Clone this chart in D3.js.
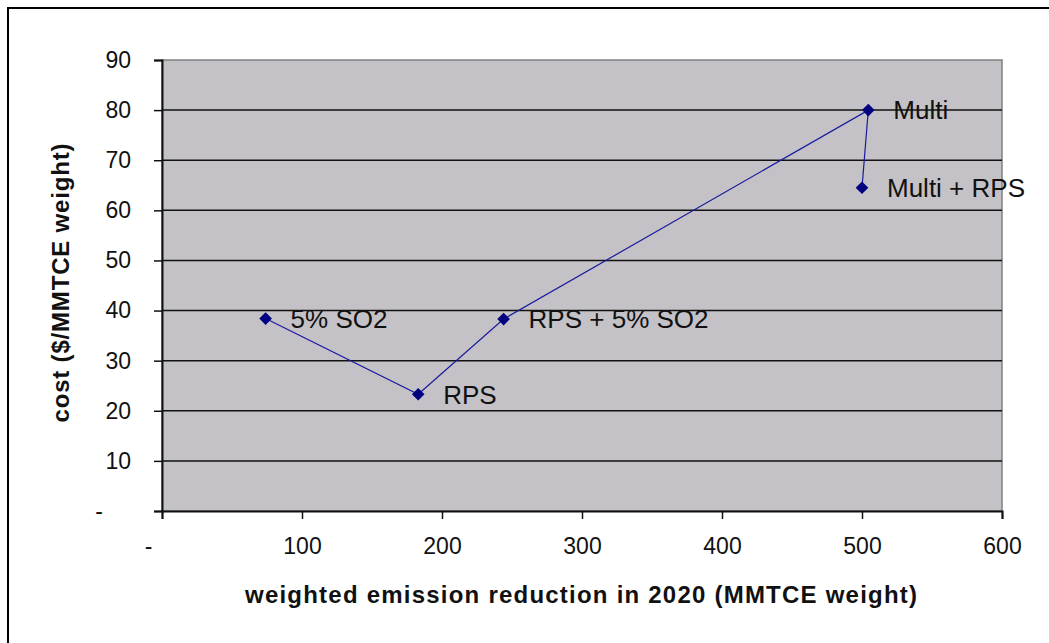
<!DOCTYPE html>
<html lang="en">
<head>
    <meta charset="UTF-8">
    <title>Cost vs weighted emission reduction</title>
    <style>
        body { margin: 0; background: #fff; }
        text { font-family: "Liberation Sans", Arial, sans-serif; }
    </style>
</head>
<body>
    <div id="my_dataviz"></div>
    <script src="https://d3js.org/d3.v7.min.js"></script>
    <script>

        // data
        var scenarios = ["5% SO2", "RPS", "RPS + 5% SO2", "Multi", "Multi + RPS"]
        var reduction = [74, 183, 244, 504.5, 500]
        var cost = [38.4, 23.3, 38.3, 80, 64.5]
        var xTicks = [0, 100, 200, 300, 400, 500, 600]
        var yTicks = [0, 10, 20, 30, 40, 50, 60, 70, 80, 90]

        var W = 1049, H = 643
        var margin = { top: 60, right: 47, bottom: 132, left: 162 },
            width = W - margin.left - margin.right,
            height = H - margin.top - margin.bottom;

        var svgRoot = d3.select("#my_dataviz")
            .append("svg")
            .attr("width", W)
            .attr("height", H)

        // outer chart frame (cut off at right/bottom)
        svgRoot.append("rect")
            .attr("x", 8).attr("y", 8)
            .attr("width", W + 20).attr("height", H + 20)
            .attr("fill", "#fff")
            .attr("stroke", "#000")
            .attr("stroke-width", 2)

        var svg = svgRoot.append("g")
            .attr("transform", "translate(" + margin.left + "," + margin.top + ")");

        var x = d3.scaleLinear().domain([0, 600]).range([0, width])
        var y = d3.scaleLinear().domain([0, 90]).range([height, 0])

        // plot area
        svg.append("rect")
            .attr("width", width).attr("height", height)
            .attr("fill", "#c4c2c6")
            .attr("stroke", "#808080")
            .attr("stroke-width", 1.5)

        // gridlines
        svg.selectAll(".grid")
            .data(yTicks.filter(function (d) { return d > 0 && d < 90 }))
            .enter()
            .append("line")
            .attr("x1", 0).attr("x2", width)
            .attr("y1", function (d) { return y(d) }).attr("y2", function (d) { return y(d) })
            .attr("stroke", "#111")
            .attr("stroke-width", 1.5)

        // axes
        var fmt = function (d) { return d === 0 ? "-" : d }
        var yAxis = svg.append("g")
            .call(d3.axisLeft(y).tickValues(yTicks).tickFormat(fmt).tickSize(8).tickPadding(23))
        var xAxis = svg.append("g")
            .attr("transform", "translate(0," + height + ")")
            .call(d3.axisBottom(x).tickValues(xTicks).tickFormat(fmt).tickSize(8).tickPadding(19))

        ;[yAxis, xAxis].forEach(function (a) {
            a.select(".domain").attr("stroke", "#111").attr("stroke-width", 2)
            a.selectAll(".tick line").attr("stroke", "#111").attr("stroke-width", 1.5)
            a.selectAll(".tick text")
                .style("font-family", "'Liberation Sans', Arial, sans-serif")
                .style("font-size", "23px")
                .attr("fill", "#111")
        })
        // the "-" zero labels sit further out
        yAxis.selectAll(".tick text").filter(function (d) { return d === 0 }).attr("dx", -28)
        xAxis.selectAll(".tick text").filter(function (d) { return d === 0 }).attr("dx", -14)

        // series line
        var pts = scenarios.map(function (s, i) { return { name: s, x: reduction[i], y: cost[i] } })
        svg.append("path")
            .datum(pts)
            .attr("fill", "none")
            .attr("stroke", "#1a1aa0")
            .attr("stroke-width", 1.2)
            .attr("d", d3.line()
                .x(function (d) { return x(d.x) })
                .y(function (d) { return y(d.y) }))

        // diamond markers
        svg.selectAll(".marker")
            .data(pts)
            .enter()
            .append("path")
            .attr("transform", function (d) { return "translate(" + x(d.x) + "," + y(d.y) + ") rotate(45)" })
            .attr("d", d3.symbol().type(d3.symbolSquare).size(80))
            .attr("fill", "#000080")

        // data labels
        svg.selectAll(".lbl")
            .data(pts)
            .enter()
            .append("text")
            .attr("x", function (d) { return x(d.x) + 25 })
            .attr("y", function (d) { return y(d.y) })
            .attr("dy", "0.36em")
            .style("font-size", "26px")
            .attr("fill", "#111")
            .text(function (d) { return d.name })

        // axis titles
        svgRoot.append("text")
            .attr("x", 581).attr("y", 603)
            .attr("text-anchor", "middle")
            .style("font-size", "24px")
            .style("font-weight", "bold")
            .attr("textLength", 672)
            .attr("fill", "#111")
            .text("weighted emission reduction in 2020 (MMTCE weight)")

        svgRoot.append("text")
            .attr("transform", "translate(60,283) rotate(-90)")
            .attr("dy", "0.36em")
            .attr("text-anchor", "middle")
            .style("font-size", "24px")
            .style("font-weight", "bold")
            .attr("textLength", 279)
            .attr("fill", "#111")
            .text("cost ($/MMTCE weight)")

    </script>
</body>
</html>
